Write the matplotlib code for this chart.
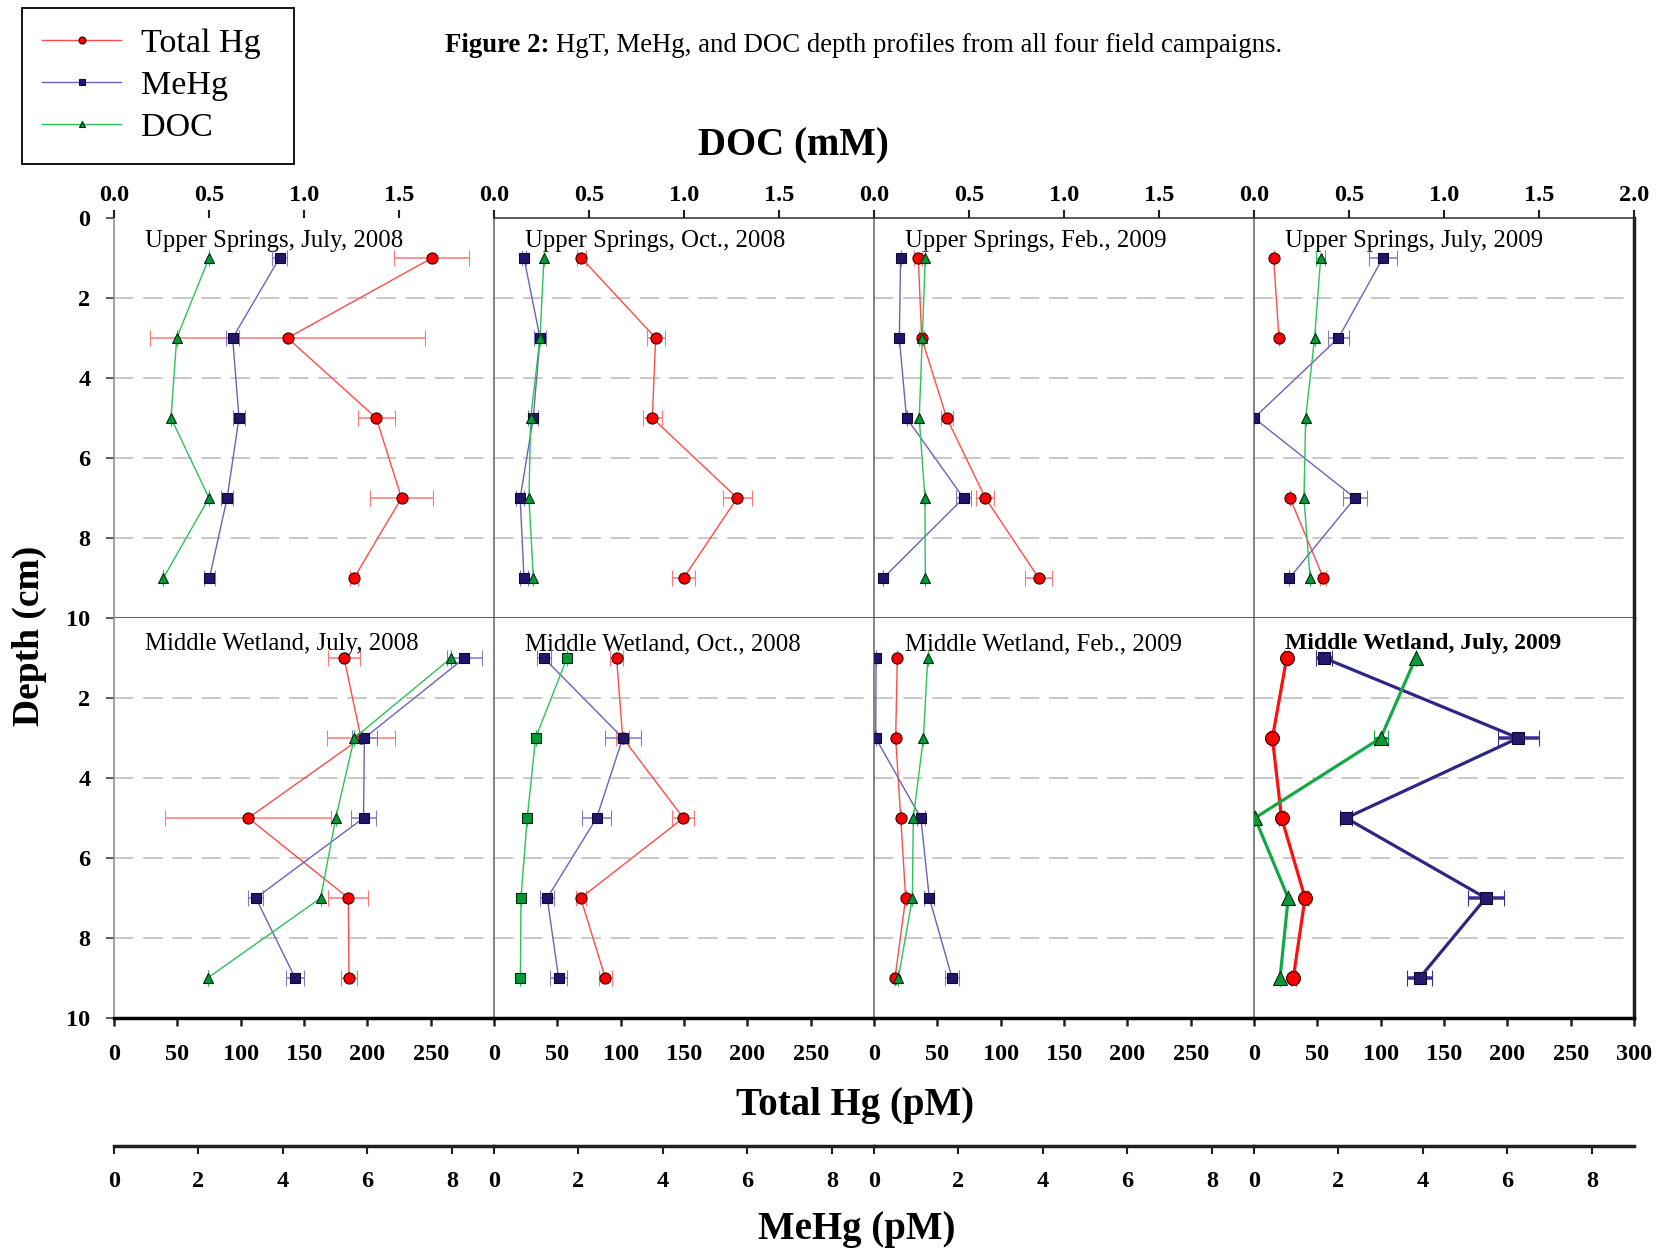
import numpy as np
import matplotlib.pyplot as plt

plt.rcParams['font.family'] = ['Liberation Serif', 'DejaVu Serif']

# depths of the five slices (cm)
DEPTH = [1, 3, 5, 7, 9]

SITES = ['Upper Springs, July, 2008', 'Upper Springs, Oct., 2008',
         'Upper Springs, Feb., 2009', 'Upper Springs, July, 2009',
         'Middle Wetland, July, 2008', 'Middle Wetland, Oct., 2008',
         'Middle Wetland, Feb., 2009', 'Middle Wetland, July, 2009']

# Total Hg (pM)
HGT = [[251, 137, 207, 227, 189.5],
       [69, 127.6, 125, 192, 149.7],
       [35, 37.6, 57.4, 87.9, 130],
       [15.5, 19.7, np.nan, 28.4, 54.7],
       [181.6, 195, 106, 185, 185.5],
       [96.8, 101.6, 149.5, 68.4, 87.9],
       [18.4, 17.1, 21.1, 25.0, 16.6],
       [25.8, 14.5, 21.8, 40.3, 31]]
HGT_ERR = [[29.6, 108.6, 14.5, 24.7, 3],
           [3.7, 7.2, 7.6, 11.6, 8.9],
           [3.2, 2, 4.7, 7.1, 10.5],
           [0, 0, np.nan, 0, 2.5],
           [12.9, 27.2, 65.7, 15.8, 6.6],
           [5.3, 5, 8.7, 4, 5.3],
           [0, 0, 0, 0, 0],
           [2, 2, 2, 2, 2]]

# MeHg (pM)
MEHG = [[3.92, 2.81, 2.96, 2.68, 2.26],
        [0.71, 1.09, 0.93, 0.62, 0.71],
        [0.63, 0.60, 0.77, 2.12, 0.22],
        [3.05, 2.0, 0.0, 2.39, 0.84],
        [8.30, 5.93, 5.91, 3.36, 4.29],
        [1.18, 3.05, 2.43, 1.26, 1.53],
        [0.05, 0.04, 1.11, 1.31, 1.85],
        [1.66, 6.26, 2.18, 5.49, 3.92]]
MEHG_ERR = [[0.18, 0.16, 0.15, 0.14, 0.13],
            [0.05, 0.15, 0.12, 0.1, 0.1],
            [0, 0, 0, 0.18, 0],
            [0.33, 0.24, 0, 0.28, 0],
            [0.42, 0.3, 0.29, 0.18, 0.22],
            [0.17, 0.42, 0.35, 0.17, 0.21],
            [0, 0, 0.1, 0.12, 0.16],
            [0.19, 0.49, 0.15, 0.42, 0.3]]

# DOC (mM)
DOC = [[0.50, 0.33, 0.30, 0.50, 0.26],
       [0.263, 0.242, 0.193, 0.184, 0.207],
       [0.27, 0.254, 0.238, 0.268, 0.27],
       [0.351, 0.319, 0.272, 0.263, 0.295],
       [1.774, 1.265, 1.167, 1.088, 0.493],
       [0.384, 0.219, 0.175, 0.142, 0.139],
       [0.283, 0.26, 0.207, 0.202, 0.128],
       [0.851, 0.667, 0.005, 0.18, 0.137]]
DOC_ERR = [[0, 0, 0, 0, 0],
           [0, 0, 0, 0, 0],
           [0, 0, 0, 0, 0],
           [0.025, 0, 0, 0, 0],
           [0, 0, 0, 0, 0],
           [0, 0, 0, 0, 0],
           [0, 0, 0, 0, 0],
           [0, 0.037, 0, 0, 0]]

HGT_TICKS = [0, 50, 100, 150, 200, 250, 300]
MEHG_TICKS = [0, 2, 4, 6, 8]
DOC_TICKS = [0.0, 0.5, 1.0, 1.5, 2.0]
GRID_DEPTHS = [2, 4, 6, 8]

W, H = 1663, 1251
fig = plt.figure(figsize=(W / 100, H / 100), dpi=100)

TICKFONT = dict(fontsize=17.5, fontweight='bold')

thin = dict(red=('#FF4B4B', '#FF0000', '#FF7878'),
            blue=('#6A62B8', '#20156B', '#8479C8'),
            green=('#2EC05A', '#009A35', '#2EC05A'))
thick = dict(red=('#FF1010', '#FF0000', '#FF1010'),
             blue=('#2E2585', '#25186E', '#3A2F90'),
             green=('#14A844', '#0A9A35', '#14A844'))

legend_handles = []

for i, site in enumerate(SITES):
    row, col = divmod(i, 4)
    left = 114 + 380 * col
    top = 218 + 400 * row
    ax = fig.add_axes([left / W, 1 - (top + 400) / H, 380 / W, 400 / H])
    ax_me = ax.twiny()
    ax_doc = ax.twiny()

    last = (i == 7)
    pal = thick if last else thin
    lw = 2.3 if last else 1.0
    ms = 1.25 if last else 1.0

    ax.set_xlim(0, 300)
    ax_me.set_xlim(0, 9)
    ax_doc.set_xlim(0, 2)
    ax.set_ylim(10, 0)

    for d in GRID_DEPTHS:
        ax.axhline(d, color='#C8C8C8', lw=1.4, ls=(0, (10, 5)), zorder=0)

    c_red = ax.errorbar(HGT[i], DEPTH, xerr=HGT_ERR[i], color=pal['red'][0],
                        lw=lw, marker='o', ms=8 * ms, mfc=pal['red'][1], mec='#300000',
                        mew=0.8, ecolor=pal['red'][2], elinewidth=lw * 1.1,
                        capsize=6, capthick=lw * 1.1, zorder=3)
    c_me = ax_me.errorbar(MEHG[i], DEPTH, xerr=MEHG_ERR[i], color=pal['blue'][0],
                          lw=lw, marker='s', ms=7 * ms, mfc=pal['blue'][1], mec='#100830',
                          mew=0.8, ecolor=pal['blue'][2], elinewidth=lw * 1.1,
                          capsize=6, capthick=lw * 1.1, zorder=3)
    doc_marker = 's' if i == 5 else '^'
    c_doc = ax_doc.errorbar(DOC[i], DEPTH, xerr=DOC_ERR[i], color=pal['green'][0],
                            lw=lw, marker=doc_marker, ms=7.5 * ms, mfc=pal['green'][1],
                            mec='#002810', mew=0.8, ecolor=pal['green'][2],
                            elinewidth=lw, capsize=6, capthick=lw, zorder=3)
    if i == 0:
        legend_handles = [c_red.lines[0], c_me.lines[0], c_doc.lines[0]]

    ax.text(0.081, 0.942 if row == 0 else 0.935, site, transform=ax.transAxes,
            ha='left', va='center', fontsize=17 if last else 17.8,
            fontweight='bold' if last else 'normal', zorder=5)

    # spines
    for a in (ax, ax_me, ax_doc):
        for s in a.spines.values():
            s.set_visible(False)
    ax.spines['left'].set_visible(True)
    ax.spines['left'].set_color('#707070' if col else '#909090')
    ax.spines['left'].set_linewidth(1.2)
    if row == 0 and col > 0:
        ax.spines['top'].set_visible(True)
        ax.spines['top'].set_color('#404040')
        ax.spines['top'].set_linewidth(1.2)
    if row == 0:
        ax.spines['bottom'].set_visible(True)
        ax.spines['bottom'].set_color('#404040')
        ax.spines['bottom'].set_linewidth(1.2)
    else:
        ax.spines['bottom'].set_visible(True)
        ax.spines['bottom'].set_color('black')
        ax.spines['bottom'].set_linewidth(2.5)
    if col == 3:
        ax.spines['right'].set_visible(True)
        ax.spines['right'].set_color('#202020')
        ax.spines['right'].set_linewidth(2.5)

    # y ticks
    if col == 0:
        yt = [0, 2, 4, 6, 8, 10] if row == 0 else [2, 4, 6, 8, 10]
        ax.set_yticks(yt)
        ax.set_yticklabels([str(v) for v in yt], **TICKFONT)
        ax.tick_params(axis='y', direction='out', length=6, width=1.2,
                       color='#404040', pad=11)
    else:
        ax.set_yticks([])

    hgt_t = HGT_TICKS if col == 3 else HGT_TICKS[:-1]
    doc_t = DOC_TICKS if col == 3 else DOC_TICKS[:-1]

    if row == 0:
        ax.set_xticks([])
        ax_me.set_xticks([])
        ax_doc.set_xticks(doc_t)
        ax_doc.set_xticklabels(['%.1f' % v for v in doc_t], **TICKFONT)
        ax_doc.tick_params(axis='x', direction='out', length=6, width=1.5,
                           color='#202020', pad=2.5)
    else:
        ax_doc.set_xticks([])
        ax.set_xticks(hgt_t)
        ax.set_xticklabels([str(v) for v in hgt_t], **TICKFONT)
        ax.tick_params(axis='x', direction='out', length=6, width=1.8,
                       color='#202020', pad=13)
        ax_me.xaxis.set_ticks_position('bottom')
        ax_me.xaxis.set_label_position('bottom')
        ax_me.spines['bottom'].set_visible(True)
        ax_me.spines['bottom'].set_position(('outward', 92))
        ax_me.spines['bottom'].set_linewidth(2.5)
        ax_me.spines['bottom'].set_color('#202020')
        ax_me.set_xticks(MEHG_TICKS)
        ax_me.set_xticklabels([str(v) for v in MEHG_TICKS], **TICKFONT)
        ax_me.tick_params(axis='x', direction='out', length=6, width=1.5,
                          color='#202020', pad=12)

# axis titles
fig.text(793 / W, 1 - 146 / H, 'DOC (mM)', fontsize=28, fontweight='bold',
         ha='center', va='center')
fig.text(855 / W, 1 - 1105 / H, 'Total Hg (pM)', fontsize=28, fontweight='bold',
         ha='center', va='center')
fig.text(857 / W, 1 - 1229 / H, 'MeHg (pM)', fontsize=28, fontweight='bold',
         ha='center', va='center')
fig.text(29 / W, 1 - 636 / H, 'Depth (cm)', fontsize=27, fontweight='bold',
         ha='center', va='center', rotation=90)

# figure caption
r = fig.canvas.get_renderer()
t1 = fig.text(445 / W, 1 - 45 / H, 'Figure 2:', fontsize=19.3, fontweight='bold',
              ha='left', va='center')
bb = t1.get_window_extent(renderer=r)
fig.text((bb.x1 + 6) / W, 1 - 45 / H,
         'HgT, MeHg, and DOC depth profiles from all four field campaigns.',
         fontsize=19.3, ha='left', va='center')

leg = fig.legend(legend_handles, ['Total Hg', 'MeHg', 'DOC'],
                 loc='upper left', mode='expand',
                 bbox_to_anchor=(22 / W, 1 - 160 / H, 272 / W, 152 / H),
                 fontsize=24.5, frameon=True, fancybox=False, framealpha=1,
                 edgecolor='black', handlelength=2.3, handletextpad=0.6,
                 labelspacing=0.33, borderpad=0.6, borderaxespad=0)
leg.get_frame().set_linewidth(1.3)
for h in leg.legend_handles:
    h.set_markersize(5)

fig.savefig('out.png', dpi=100)
